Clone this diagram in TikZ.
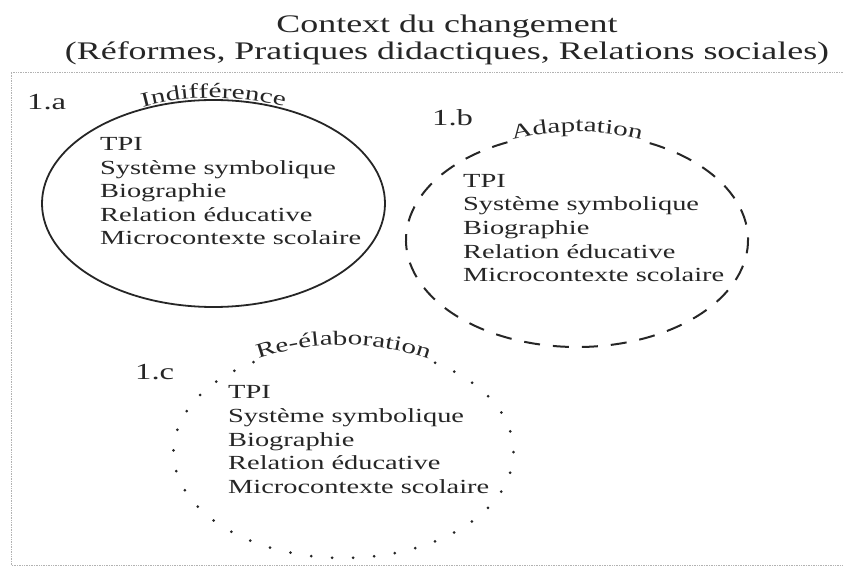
\documentclass[tikz,border=0pt]{standalone}
\usepackage{fontspec}
\setmainfont{Liberation Serif}[FakeStretch=1.42]
\usetikzlibrary{decorations.text}
\newcommand\ringfont{\fontsize{20.5}{23}\selectfont}

\begin{document}
\begin{tikzpicture}[x=1pt, y=1pt,
    ring/.style={line width=1.8pt, draw=black!85},
    items/.style={align=left, anchor=base west, inner sep=0pt, text=black!85, font=\fontsize{20}{23.6}\selectfont},
    tag/.style={anchor=base west, inner sep=0pt, text=black!85, font=\fontsize{23}{27}\selectfont},
    heading/.style={anchor=base, inner sep=0pt, text=black!85, font=\fontsize{25.3}{30}\selectfont},
    arclabel/.style={decorate, decoration={text along path, text align=center, raise=#1, text color=black!85}},
    arclabel/.default=1pt]

    \useasboundingbox (0,0) rectangle (843,568);

    \node [heading] (ctx) at (447,535) {Context du changement};
    \node [heading] (ctxsub) at (447,508) {(Réformes, Pratiques didactiques, Relations sociales)};

    \draw [densely dotted, gray!60, line width=0.7pt] (843,496) -- (11,496) -- (11,3) -- (843,3);

    \node [tag] (la) at (27,458) {1.a};
    \node [tag] (lb) at (432,442) {1.b};
    \node [tag] (lc) at (135,188) {1.c};

    \draw [ring] (213.5,364.5) ellipse [x radius=171.5, y radius=103.5];
    \draw [ring, line width=2pt, dash pattern=on 16pt off 13pt] ([shift={(114:171 and 107)}]577,328) arc [start angle=114, end angle=427, x radius=171, y radius=107];
    \draw [ring, line width=3pt, line cap=round, dash pattern=on 0pt off 21pt] ([shift={(122:170 and 106)}]343.5,116) arc [start angle=122, end angle=418, x radius=170, y radius=106];

    \path [arclabel=2pt, decoration={text={|\ringfont|Indifférence}}] (42,364.5) arc [start angle=180, end angle=0, x radius=171.5, y radius=103.5];
    \path [arclabel, decoration={text={|\ringfont|Adaptation}}] (406,328) arc [start angle=180, end angle=0, x radius=171, y radius=107];
    \path [arclabel, decoration={text={|\ringfont|Re-élaboration}}] (173.5,116) arc [start angle=180, end angle=0, x radius=170, y radius=106];

    \node [items] (itemsA) at (100,323) {TPI\\Système symbolique\\Biographie\\Relation éducative\\Microcontexte scolaire};
    \node [items] (itemsB) at (463,286.3) {TPI\\Système symbolique\\Biographie\\Relation éducative\\Microcontexte scolaire};
    \node [items] (itemsC) at (228,74.7) {TPI\\Système symbolique\\Biographie\\Relation éducative\\Microcontexte scolaire};

\end{tikzpicture}
\end{document}
